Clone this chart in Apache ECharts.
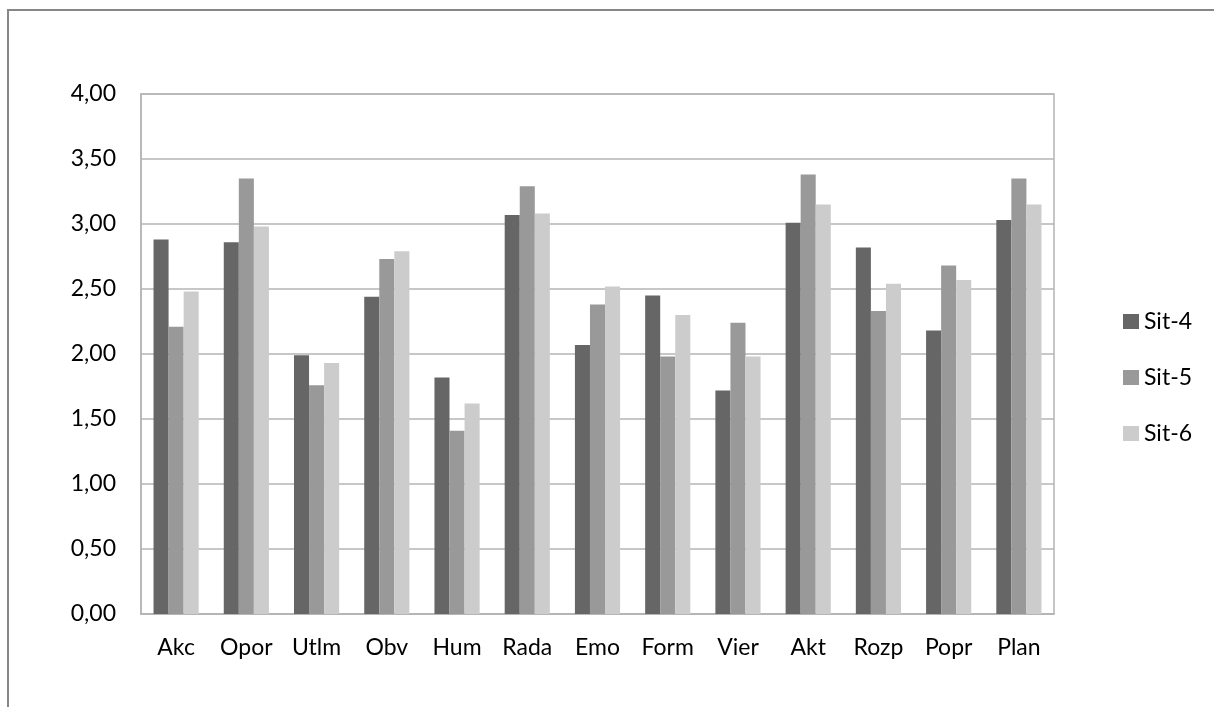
<!DOCTYPE html>
<html>
<head>
<meta charset="utf-8">
<script src="https://cdn.jsdelivr.net/npm/echarts@6/dist/echarts.min.js"></script>
<style>
html,body{margin:0;padding:0;background:#fff;}
#chart{width:1214px;height:707px;}
</style>
</head>
<body>
<div id="chart"></div>
<script>
const categories = ['Akc','Opor','Utlm','Obv','Hum','Rada','Emo','Form','Vier','Akt','Rozp','Popr','Plan'];
const seriesNames = ['Sit-4','Sit-5','Sit-6'];
const sit4 = [2.88, 2.86, 1.99, 2.44, 1.82, 3.07, 2.07, 2.45, 1.72, 3.01, 2.82, 2.18, 3.03];
const sit5 = [2.21, 3.35, 1.76, 2.73, 1.41, 3.29, 2.38, 1.98, 2.24, 3.38, 2.33, 2.68, 3.35];
const sit6 = [2.48, 2.98, 1.93, 2.79, 1.62, 3.08, 2.52, 2.30, 1.98, 3.15, 2.54, 2.57, 3.15];
const yTickLabels = ['0,00','0,50','1,00','1,50','2,00','2,50','3,00','3,50','4,00'];
const colors = ['#666666', '#999999', '#cccccc'];

const font = 'Lato, "Open Sans", sans-serif';
const chart = echarts.init(document.getElementById('chart'), null, {renderer: 'canvas'});
const values = [sit4, sit5, sit6];

chart.setOption({
  animation: false,
  backgroundColor: '#ffffff',
  graphic: [{
    type: 'rect',
    shape: {x: 8, y: 10, width: 1400, height: 900},
    style: {fill: 'none', stroke: '#878787', lineWidth: 2},
    silent: true,
    z: 0
  }],
  grid: {
    left: 141, top: 94, width: 913, height: 520,
    show: true, borderColor: '#b4b4b4', borderWidth: 1.5, backgroundColor: 'transparent'
  },
  legend: {
    orient: 'vertical',
    left: 1118, top: 305,
    itemWidth: 16, itemHeight: 15, itemGap: 33,
    icon: 'rect',
    textStyle: {fontFamily: font, fontSize: 23, color: '#000'},
    data: seriesNames
  },
  xAxis: {
    type: 'category',
    data: categories,
    axisTick: {show: false},
    axisLine: {lineStyle: {color: '#b4b4b4', width: 1.5}},
    axisLabel: {fontFamily: font, fontSize: 23, color: '#000', margin: 22}
  },
  yAxis: {
    type: 'value',
    min: 0, max: 4, interval: 0.5,
    axisLine: {show: true, lineStyle: {color: '#b4b4b4', width: 1.5}},
    axisTick: {show: false},
    splitLine: {lineStyle: {color: '#b4b4b4', width: 1.5}},
    axisLabel: {
      fontFamily: font, fontSize: 23, color: '#000', margin: 25,
      formatter: function (v) { return yTickLabels[Math.round(v / 0.5)]; }
    }
  },
  series: seriesNames.map((name, i) => ({
    name: name,
    type: 'bar',
    data: values[i],
    barGap: '0%',
    barCategoryGap: '35.7%',
    itemStyle: {color: colors[i]}
  }))
});
</script>
</body>
</html>
